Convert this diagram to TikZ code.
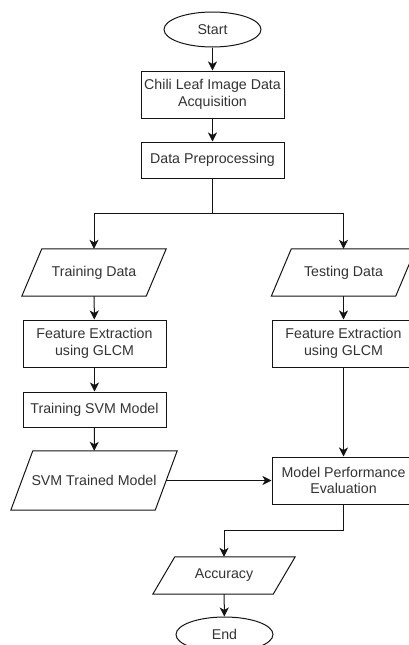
\documentclass[tikz,border=0pt]{standalone}
\usepackage{fontspec}
\setmainfont{Liberation Sans}
\usetikzlibrary{shapes.geometric,arrows.meta,calc}
\definecolor{lncol}{RGB}{20,20,20}
\definecolor{tx}{RGB}{50,50,50}
\tikzset{
  base/.style={font=\fontsize{14.2}{16.5}\selectfont, text=tx, align=center, inner sep=0pt},
  proc/.style={base, draw=lncol, line width=1pt, rectangle, minimum width=143pt},
  term/.style={base, draw=lncol, line width=1pt, ellipse, minimum width=97pt, minimum height=35pt},
  io/.style={base, rectangle},
  arr/.style={draw=lncol, line width=1pt, -{Stealth[length=9pt,width=9pt,inset=2.5pt]}},
  lnst/.style={draw=lncol, line width=1pt},
}
\newcommand{\pgram}[2]{%
  \draw[lnst, line join=miter] ($(#1.south west)+(-#2/2,0)$) -- ($(#1.north west)+(#2/2,0)$) -- ($(#1.north east)+(#2/2,0)$) -- ($(#1.south east)+(-#2/2,0)$) -- cycle;}
\begin{document}
\begin{tikzpicture}[x=1pt,y=-1pt]
\useasboundingbox (0,0) rectangle (409,645);
\node[term] (start) at (212.5,29.5) {Start};
\node[proc, minimum height=47pt] (chili) at (212.5,94.5) {Chili Leaf Image Data\\Acquisition};
\node[proc, minimum height=36pt] (prep) at (212.5,160) {Data Preprocessing};
\coordinate (sp) at (212.5,213);
\node[io, minimum width=124pt, minimum height=47pt] (train) at (94,272.5) {Training Data};
\node[io, minimum width=124pt, minimum height=47pt] (test) at (343.5,272.5) {Testing Data};
\node[proc, minimum height=47pt] (fe1) at (94.5,343.5) {Feature Extraction\\using GLCM};
\node[proc, minimum height=47pt] (fe2) at (343.5,343.5) {Feature Extraction\\using GLCM};
\node[proc, minimum height=35pt] (svmt) at (94.5,409.5) {Training SVM Model};
\node[io, minimum width=144pt, minimum height=59pt] (svmm) at (94,480.5) {SVM Trained Model};
\node[proc, minimum height=47pt] (mpe) at (343.5,480.5) {Model Performance\\Evaluation};
\coordinate (bend) at (224,530);
\node[io, minimum width=120pt, minimum height=37pt] (acc) at (224,575.5) {Accuracy};
\node[term] (end) at (224.5,634.5) {End};
\pgram{train}{20pt}
\pgram{test}{20pt}
\pgram{svmm}{22pt}
\pgram{acc}{22pt}
\draw[arr] (start) -- (chili);
\draw[arr] (chili) -- (prep);
\draw[lnst] (prep.south) -- (sp);
\draw[arr] (sp) -| (train.north);
\draw[arr] (sp) -| (test.north);
\draw[arr] (train) -- (fe1);
\draw[arr] (fe1) -- (svmt);
\draw[arr] (svmt) -- (svmm);
\draw[arr] (test) -- (fe2);
\draw[arr] (fe2) -- (mpe);
\draw[arr] (svmm.east) -- (mpe.west);
\draw[lnst] (mpe.south) |- (bend);
\draw[arr] (bend) -- (acc.north);
\draw[arr] (acc) -- (end);
\end{tikzpicture}
\end{document}
